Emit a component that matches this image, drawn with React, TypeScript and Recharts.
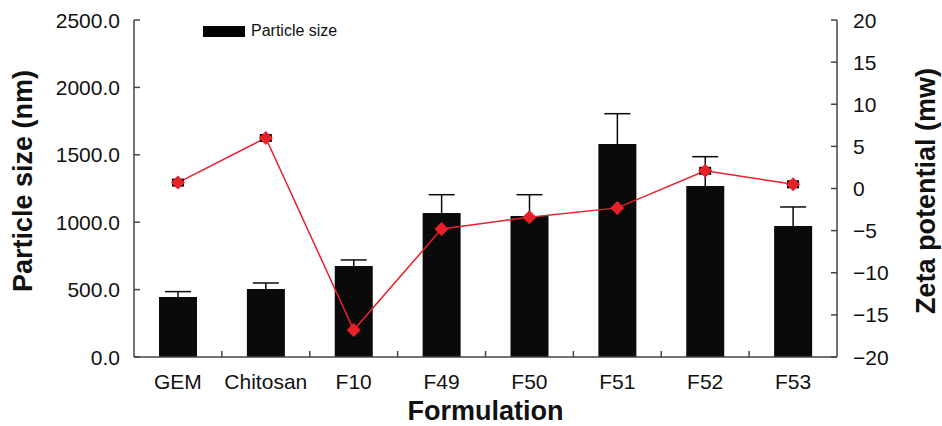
import React from "react";
import { ComposedChart, Bar, Line, XAxis, YAxis, ErrorBar, Legend } from "recharts";

const categories = ["GEM", "Chitosan", "F10", "F49", "F50", "F51", "F52", "F53"];
const particleSize = [445, 504, 675, 1068, 1046, 1580, 1268, 972];
const particleErr = [40, 45, 45, 136, 158, 225, 218, 141];
const zeta = [0.7, 6.0, -16.8, -4.8, -3.4, -2.3, 2.1, 0.5];
const zetaErr = [0.4, 0.4, 0, 0, 0, 0, 0.4, 0.4];
const sizeTicks = [0, 500, 1000, 1500, 2000, 2500];
const zetaTicks = [-20, -15, -10, -5, 0, 5, 10, 15, 20];

const W = 942;
const H = 426;
const LEFT = 134;
const RIGHT_W = 105;
const TOP = 20;
const X_H = 69;
const PLOT_W = W - LEFT - RIGHT_W;
const BOTTOM = H - X_H;
const BAND = PLOT_W / categories.length;

const FONT = "'Liberation Sans', Arial, sans-serif";
const AXIS = "#444";
const RED = "#e8202a";
const BAR = "#0a0a0a";

const data = categories.map((name, i) => ({
  name,
  size: particleSize[i],
  sizeErr: particleErr[i],
  zeta: zeta[i],
  zetaErr: zetaErr[i],
}));

const LeftTick = ({ y, payload }: any) => (
  <g>
    <line x1={LEFT} x2={LEFT + 6} y1={y} y2={y} stroke={AXIS} strokeWidth={1.5} />
    <text x={LEFT - 14} y={y} dy="0.36em" textAnchor="end" fontSize={21} fontFamily={FONT} fill="#111">
      {payload.value.toFixed(1)}
    </text>
  </g>
);

const RightTick = ({ y, payload }: any) => (
  <g>
    <line x1={LEFT + PLOT_W} x2={LEFT + PLOT_W - 6} y1={y} y2={y} stroke={AXIS} strokeWidth={1.5} />
    <text x={LEFT + PLOT_W + 16} y={y} dy="0.36em" textAnchor="start" fontSize={21} fontFamily={FONT} fill="#111">
      {payload.value < 0 ? "\u2212" + Math.abs(payload.value) : payload.value}
    </text>
  </g>
);

const BottomTick = ({ x, payload, index }: any) => (
  <g>
    {index < categories.length - 1 && (
      <line x1={x + BAND / 2} x2={x + BAND / 2} y1={BOTTOM} y2={BOTTOM - 6} stroke={AXIS} strokeWidth={1.5} />
    )}
    <text x={x} y={BOTTOM + 32} textAnchor="middle" fontSize={21} fontFamily={FONT} fill="#111">
      {payload.value}
    </text>
  </g>
);

const ZetaDot = ({ cx, cy, payload }: any) => (
  <g>
    {payload.zetaErr > 0 && <rect x={cx - 6} y={cy - 4} width={12} height={8} fill="#000" />}
    <polygon points={`${cx},${cy - 7} ${cx + 7},${cy} ${cx},${cy + 7} ${cx - 7},${cy}`} fill={RED} />
  </g>
);

const LegendBox = () => (
  <div style={{ display: "flex", alignItems: "center", fontFamily: FONT, fontSize: 16, color: "#111", whiteSpace: "nowrap", width: 200 }}>
    <span style={{ display: "inline-block", flexShrink: 0, width: 42, height: 11, background: "#000", marginRight: 6 }} />
    Particle size
  </div>
);

export default function App() {
  return (
    <div style={{ position: "absolute", left: 0, top: 0, width: W, height: H, background: "#fff" }}>
      <ComposedChart width={W} height={H} data={data} margin={{ top: TOP, right: 0, bottom: 0, left: 0 }}>
        <XAxis
          dataKey="name"
          height={X_H}
          stroke={AXIS}
          strokeWidth={1.5}
          tickLine={false}
          tick={<BottomTick />}
          interval={0}
          label={{
            content: () => (
              <text x={LEFT + PLOT_W / 2} y={H - 6} textAnchor="middle" fontSize={27} fontWeight="bold" fontFamily={FONT} fill="#111">
                Formulation
              </text>
            ),
          }}
        />
        <YAxis
          yAxisId="left"
          width={LEFT}
          domain={[0, 2500]}
          ticks={sizeTicks}
          stroke={AXIS}
          strokeWidth={1.5}
          tickLine={false}
          tick={<LeftTick />}
          interval={0}
          label={{
            content: () => (
              <text
                x={22}
                y={181}
                transform="rotate(-90 22 181)"
                dy="0.36em"
                textAnchor="middle"
                fontSize={27}
                fontWeight="bold"
                fontFamily={FONT}
                fill="#111"
              >
                Particle size (nm)
              </text>
            ),
          }}
        />
        <YAxis
          yAxisId="right"
          orientation="right"
          width={RIGHT_W}
          domain={[-20, 20]}
          ticks={zetaTicks}
          stroke={AXIS}
          strokeWidth={1.5}
          tickLine={false}
          tick={<RightTick />}
          interval={0}
          label={{
            content: () => (
              <text
                x={925}
                y={191}
                transform="rotate(-90 925 191)"
                dy="0.36em"
                textAnchor="middle"
                fontSize={27}
                fontWeight="bold"
                fontFamily={FONT}
                fill="#111"
              >
                Zeta potential (mw)
              </text>
            ),
          }}
        />
        <Legend
          content={<LegendBox />}
          wrapperStyle={{ position: "absolute", left: 203, top: 22, width: 200, height: 0, overflow: "visible" }}
        />
        <Bar yAxisId="left" dataKey="size" name="Particle size" fill={BAR} barSize={38} isAnimationActive={false}>
          <ErrorBar dataKey="sizeErr" width={13} strokeWidth={1.5} stroke={BAR} direction="y" />
        </Bar>
        <Line
          yAxisId="right"
          dataKey="zeta"
          type="linear"
          stroke={RED}
          strokeWidth={1.5}
          dot={<ZetaDot />}
          activeDot={false}
          legendType="none"
          isAnimationActive={false}
        />
      </ComposedChart>
    </div>
  );
}
